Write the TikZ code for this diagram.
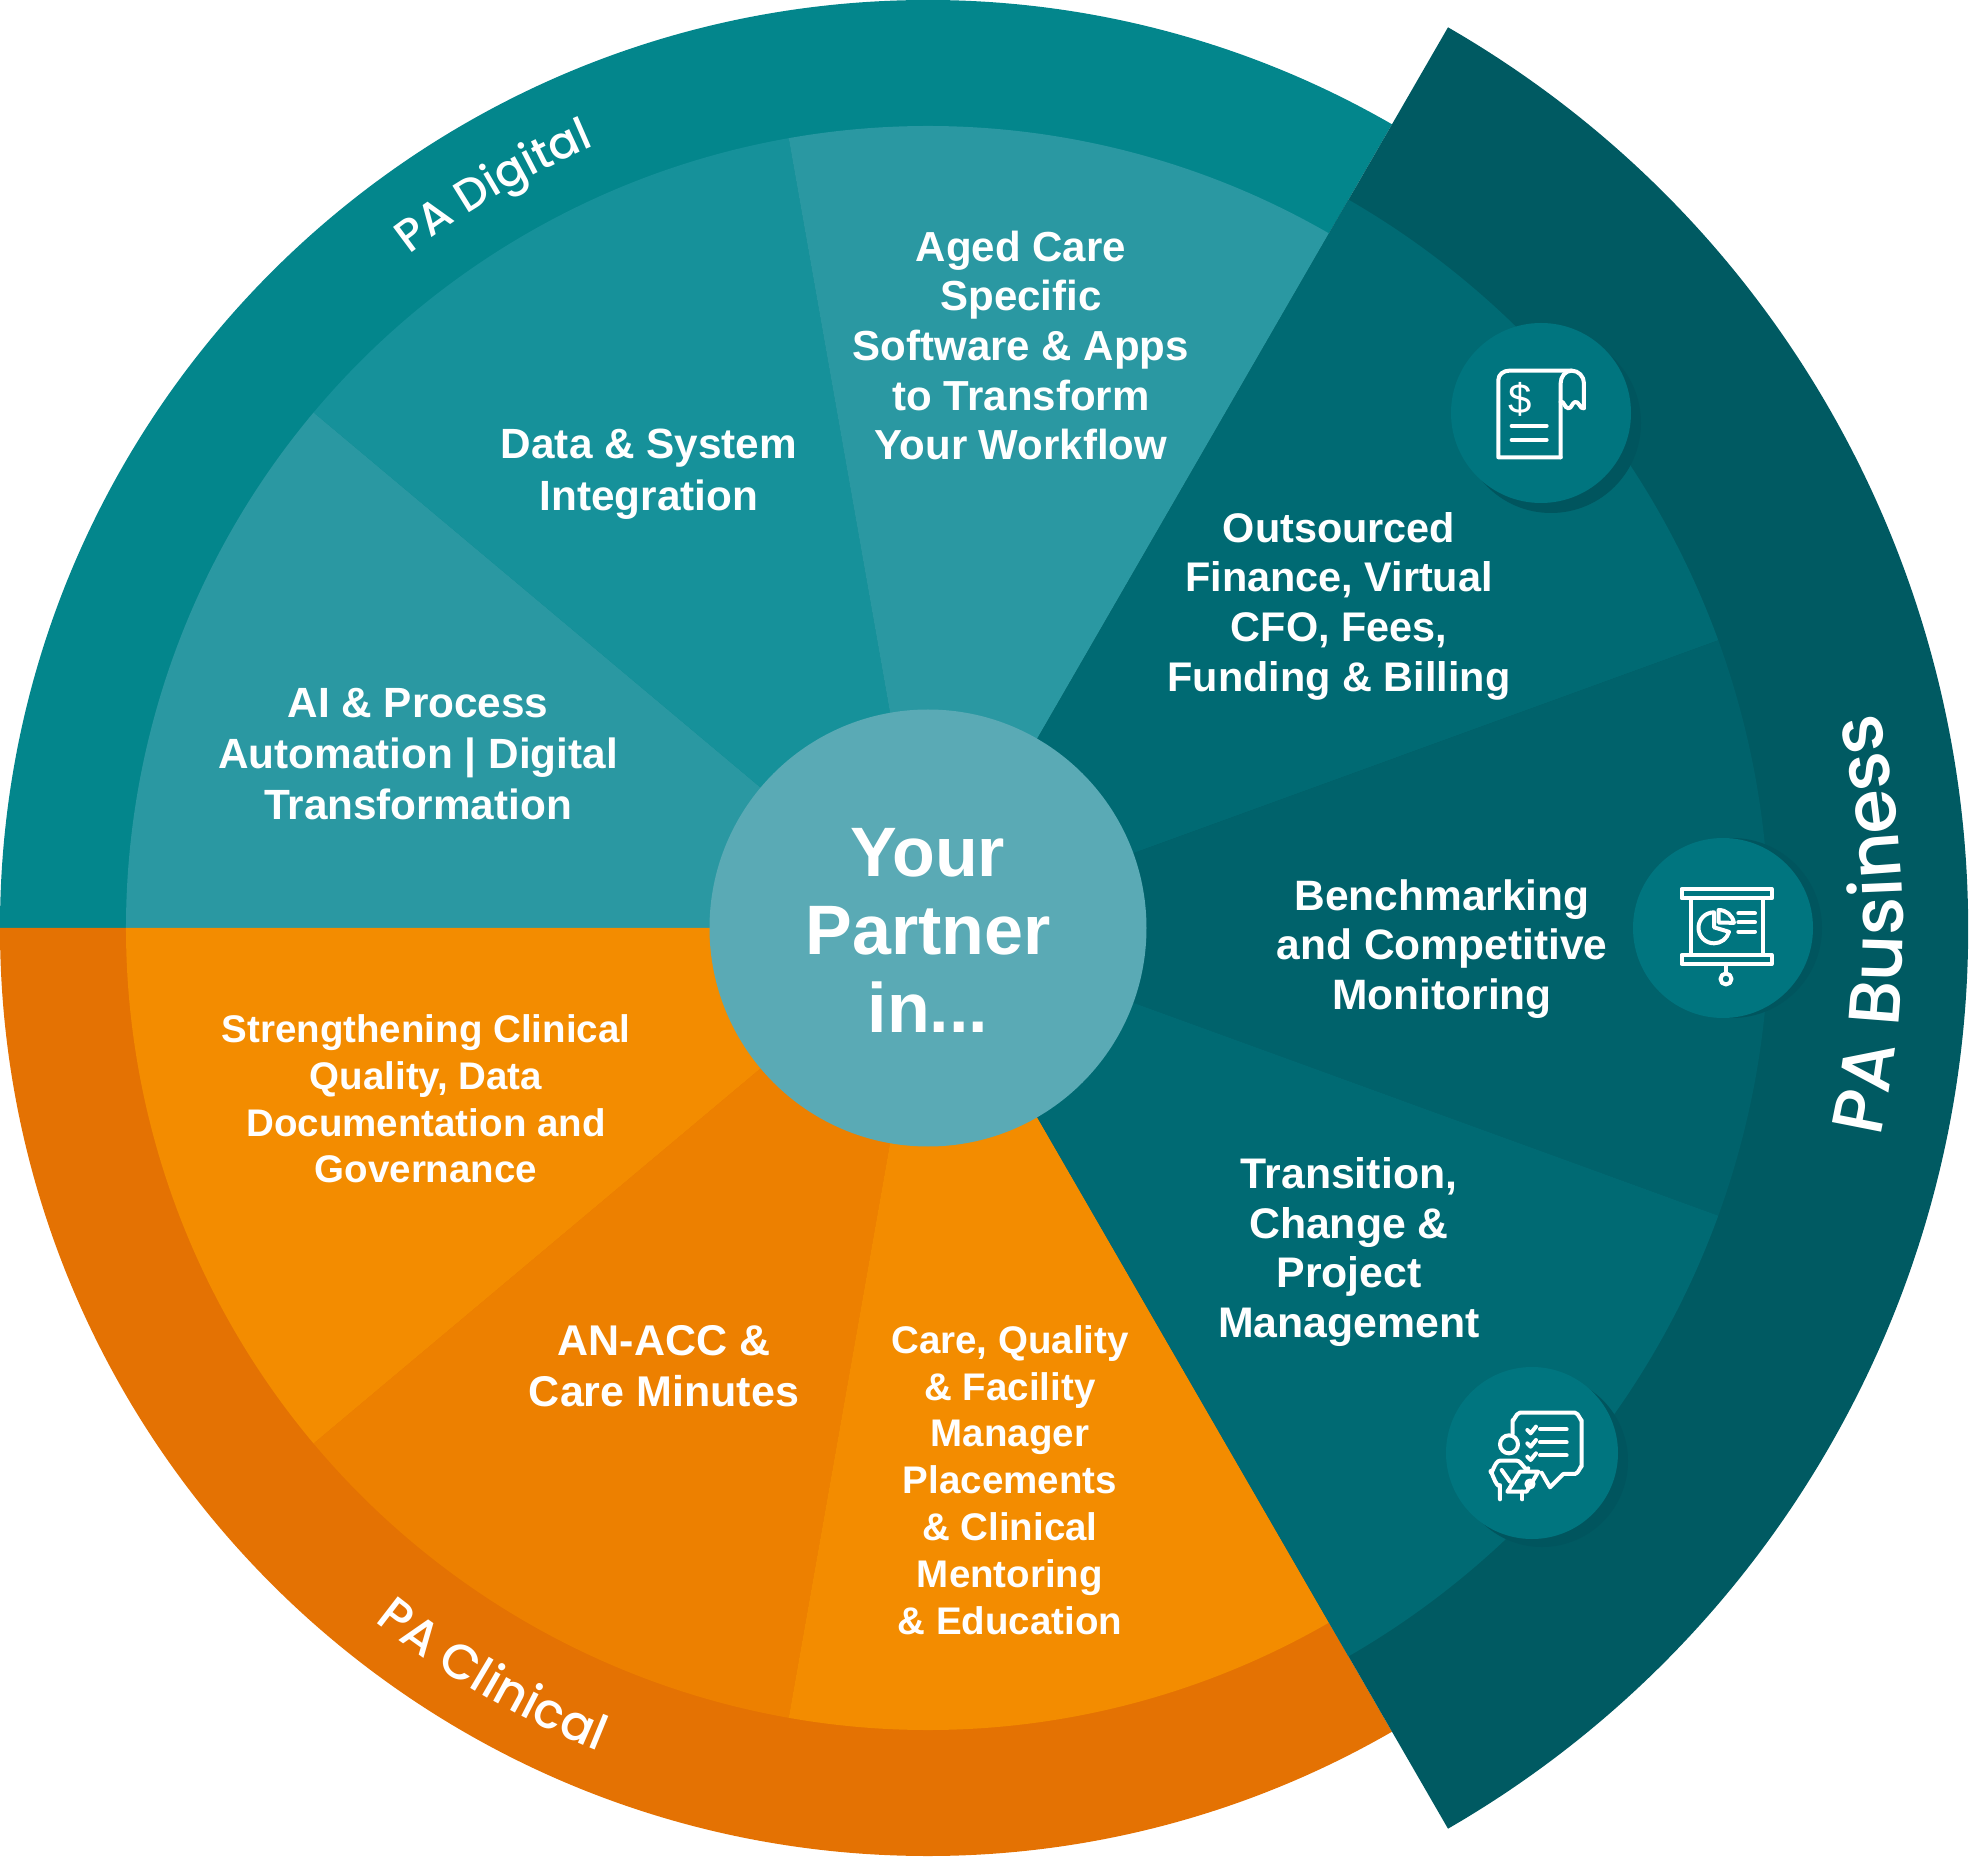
\documentclass[tikz,border=0pt]{standalone}
\usepackage{fontspec}
\usetikzlibrary{decorations.text}
\setmainfont{Liberation Sans}
\newfontfamily\pafont{Poppins Medium}
\definecolor{digring}{HTML}{03868C}
\definecolor{diglight}{HTML}{2A98A2}
\definecolor{digdark}{HTML}{16919A}
\definecolor{orering}{HTML}{E47203}
\definecolor{orelight}{HTML}{F38C00}
\definecolor{oredark}{HTML}{ED8000}
\definecolor{busouter}{HTML}{005A62}
\definecolor{busseg}{HTML}{006A73}
\definecolor{busmid}{HTML}{00626B}
\definecolor{iconfill}{HTML}{00757F}
\definecolor{iconshade}{HTML}{00555E}
\definecolor{hub}{HTML}{5AAAB5}
\tikzset{
  seg/.style={text=white,align=center,font=\bfseries\fontsize{42}{49.6}\selectfont},
  segsmall/.style={text=white,align=center,font=\bfseries\fontsize{38.5}{46.8}\selectfont},
  iconline/.style={draw=white,line width=4pt,line join=round,line cap=round},
}
\begin{document}
\begin{tikzpicture}[x=1pt,y=1pt]
\useasboundingbox (-928,-929) rectangle (1041,928);
% rings
\fill[digring] (0,0) -- (180:928pt) arc[start angle=180,end angle=60,radius=928pt] -- cycle;
\fill[orering] (0,0) -- (180:928pt) arc[start angle=180,end angle=300,radius=928pt] -- cycle;
% digital segments
\fill[diglight] (0,0) -- (180:802pt) arc[start angle=180,end angle=140,radius=802pt] -- cycle;
\fill[digdark] (0,0) -- (140:802pt) arc[start angle=140,end angle=100,radius=802pt] -- cycle;
\fill[diglight] (0,0) -- (100:802pt) arc[start angle=100,end angle=60,radius=802pt] -- cycle;
% clinical segments
\fill[orelight] (0,0) -- (180:802pt) arc[start angle=180,end angle=220,radius=802pt] -- cycle;
\fill[oredark] (0,0) -- (220:802pt) arc[start angle=220,end angle=260,radius=802pt] -- cycle;
\fill[orelight] (0,0) -- (260:802pt) arc[start angle=260,end angle=300,radius=802pt] -- cycle;
% business wedge
\fill[busouter] (0,0) -- (60:1040pt) arc[start angle=60,end angle=-60,radius=1040pt] -- cycle;
\fill[busseg] (0,0) -- (60:841pt) arc[start angle=60,end angle=20,radius=841pt] -- cycle;
\fill[busmid] (0,0) -- (20:841pt) arc[start angle=20,end angle=-20,radius=841pt] -- cycle;
\fill[busseg] (0,0) -- (-20:841pt) arc[start angle=-20,end angle=-60,radius=841pt] -- cycle;
% hub
\node[circle,fill=hub,minimum size=437pt,inner sep=0pt] (hubc) at (0,0) {};
\node[text=white,align=center,font=\bfseries\fontsize{70}{78}\selectfont] (hubt) at (0,-2) {Your\\Partner\\in...};
% icon discs
\fill[iconshade] (623,505) circle[radius=90pt];
\fill[iconfill] (613,515) circle[radius=90pt];
\fill[iconshade] (804,0) circle[radius=90pt];
\fill[iconfill] (795,0) circle[radius=90pt];
\fill[iconshade] (614,-533) circle[radius=86pt];
\fill[iconfill] (604,-525) circle[radius=86pt];
% segment labels
\node[seg] (t1) at (93,582.5) {Aged Care\\Specific\\Software \& Apps\\to Transform\\Your Workflow};
\node[seg,font=\bfseries\fontsize{42.3}{51.5}\selectfont] (t2) at (-279,454) {Data \& System\\Integration};
\node[seg,font=\bfseries\fontsize{42.3}{51}\selectfont] (t3) at (-510,174) {AI \& Process\\Automation | Digital\\Transformation};
\node[segsmall] (t4) at (-502,-171) {Strengthening Clinical\\Quality, Data\\Documentation and\\Governance};
\node[seg,font=\bfseries\fontsize{43}{51}\selectfont] (t5) at (-264,-438) {AN-ACC \&\\Care Minutes};
\node[segsmall] (t6) at (82,-552) {Care, Quality\\\& Facility\\Manager\\Placements\\\& Clinical\\Mentoring\\\& Education};
\node[seg,font=\bfseries\fontsize{41.4}{49.6}\selectfont] (t7) at (411,322) {Outsourced\\Finance, Virtual\\CFO, Fees,\\Funding \& Billing};
\node[seg,font=\bfseries\fontsize{42.5}{49.6}\selectfont] (t8) at (514,-21) {Benchmarking\\and Competitive\\Monitoring};
\node[seg,font=\bfseries\fontsize{42.8}{49.6}\selectfont] (t9) at (421,-324) {Transition,\\Change \&\\Project\\Management};
% curved titles
\path[decorate,decoration={text along path,text align=center,
  text={|\pafont\fontsize{45}{45}\selectfont\color{white}|PA Digital}}]
  (130.35:850pt) arc[start angle=130.35,end angle=110.35,radius=850pt];
\path[decorate,decoration={text along path,text align=center,
  text={|\pafont\fontsize{49}{49}\selectfont\color{white}|PA Clinical}}]
  (227.8:887pt) arc[start angle=227.8,end angle=251.8,radius=887pt];
\path[decorate,decoration={text along path,text align=center,
  text={|\pafont\fontsize{72}{72}\selectfont\color{white}|PA Business}}]
  (-15.8:975pt) arc[start angle=-15.8,end angle=16.2,radius=975pt];
% receipt icon
\begin{scope}[shift={(472,648)},x=0.3333pt,y=-0.3333pt]
\draw[iconline] (482,532) -- (295,532) -- (295,300) to[out=90,in=180] (328,272) -- (515,272) to[out=0,in=90] (552,310) -- (552,385)
  to[out=200,in=20] (525,366) to[out=200,in=0] (505,385) to[out=180,in=30] (482,366);
\draw[iconline] (515,272) to[out=180,in=90] (482,310) -- (482,532);
\draw[iconline] (335,438) -- (440,438);
\draw[iconline] (335,480) -- (440,480);
\node[text=white,inner sep=0pt,font=\fontsize{42}{42}\selectfont] (dollar) at (362,358) {\$};
\end{scope}
% presentation icon
\begin{scope}[shift={(672,128)},x=0.3333pt,y=-0.3333pt]
\draw[iconline] (245,267) rectangle (515,295);
\draw[iconline] (245,465) rectangle (515,492);
\draw[iconline] (272,295) -- (272,465);
\draw[iconline] (488,295) -- (488,465);
\draw[iconline] (378,492) -- (378,520);
\draw[iconline] (378,537) circle[radius=5.5pt];
\draw[iconline] (342,382) -- (342,337) arc[start angle=90,end angle=345,radius=15.5pt] -- cycle;
\draw[iconline] (356,330) arc[start angle=90,end angle=10,radius=15.5pt] -- (356,368) -- cycle;
\draw[iconline] (415,340) -- (465,340);
\draw[iconline] (415,367) -- (465,367);
\draw[iconline] (415,395) -- (465,395);
\end{scope}
% instructor icon
\begin{scope}[shift={(472,-412)},x=0.3333pt,y=-0.3333pt]
\draw[iconline] (338,282) -- (338,240) to[out=-90,in=180] (360,218) -- (525,218) to[out=0,in=-90] (545,240) -- (545,380) to[out=90,in=0] (525,402) -- (490,402) -- (450,442) -- (425,398);
\draw[iconline] (382,270) -- (392,280) -- (408,260);
\draw[iconline] (382,310) -- (392,320) -- (408,300);
\draw[iconline] (382,350) -- (392,360) -- (408,340);
\draw[iconline] (420,268) -- (500,268);
\draw[iconline] (420,307) -- (500,307);
\draw[iconline] (420,346) -- (500,346);
\draw[iconline] (327,313) circle[radius=9pt];
\draw[iconline] (300,478) -- (300,435) to[out=-120,in=100] (272,395) to[out=-80,in=180] (300,362) -- (350,362) to[out=0,in=-120] (385,385);
\draw[iconline] (305,390) -- (330,425);
\draw[iconline] (360,395) -- (415,395) -- (380,455) -- (322,455) -- cycle;
\draw[iconline] (390,432) circle[radius=3.5pt];
\draw[iconline] (367,455) -- (367,478);
\end{scope}
\end{tikzpicture}
\end{document}
